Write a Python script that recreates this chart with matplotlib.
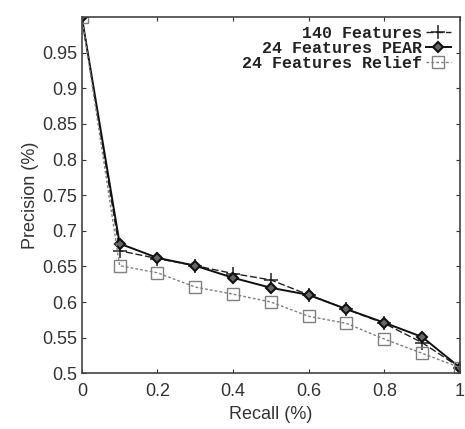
import matplotlib
matplotlib.use('Agg')
import matplotlib.pyplot as plt
import matplotlib as mpl

recall = [0.0, 0.1, 0.2, 0.3, 0.4, 0.5, 0.6, 0.7, 0.8, 0.9, 1.0]
prec_140 = [1.0, 0.672, 0.661, 0.651, 0.640, 0.631, 0.610, 0.590, 0.570, 0.543, 0.508]
prec_pear = [1.0, 0.682, 0.662, 0.651, 0.634, 0.620, 0.610, 0.590, 0.571, 0.551, 0.508]
prec_relief = [1.0, 0.651, 0.641, 0.621, 0.611, 0.600, 0.580, 0.570, 0.548, 0.528, 0.508]

labels = ['140 Features', '24 Features PEAR', '24 Features Relief']

styles = {
    '140 Features': {'color': '#222222', 'linestyle': '--', 'dashes': (5, 2),
                     'marker': '+', 'markersize': 10, 'markeredgewidth': 1.1,
                     'linewidth': 1.0},
    '24 Features PEAR': {'color': '#111111', 'linestyle': '-', 'marker': 'D',
                         'markersize': 5, 'markerfacecolor': '#666666',
                         'markeredgewidth': 1.5, 'linewidth': 1.4},
    '24 Features Relief': {'color': '#808080', 'linestyle': '--', 'dashes': (2, 1.5),
                           'marker': 's', 'markersize': 8.5, 'markerfacecolor': 'none',
                           'markeredgewidth': 1.0, 'linewidth': 1.0},
}

mpl.rc('font', family='Liberation Sans', size=13)
mpl.rc('xtick', direction='in', top=True)
mpl.rc('ytick', direction='in', right=True)

fig = plt.figure(figsize=(4.65, 4.29), dpi=100)
ax = fig.add_axes([0.176, 0.13, 0.813, 0.83])

for lab, y in zip(labels, [prec_140, prec_pear, prec_relief]):
    ax.plot(recall, y, label=lab, **styles[lab])

ax.set_xlim(0, 1)
ax.set_ylim(0.5, 1.0)
ax.set_xticks([0, 0.2, 0.4, 0.6, 0.8, 1])
ax.set_xticklabels(['0', '0.2', '0.4', '0.6', '0.8', '1'])
ax.set_yticks([0.5, 0.55, 0.6, 0.65, 0.7, 0.75, 0.8, 0.85, 0.9, 0.95])
ax.set_yticklabels(['0.5', '0.55', '0.6', '0.65', '0.7', '0.75', '0.8', '0.85', '0.9', '0.95'])
ax.tick_params(length=3, width=0.8, colors='#333333', labelcolor='#333333')
ax.tick_params(axis='x', pad=7)
for sp in ax.spines.values():
    sp.set_linewidth(1.2)
    sp.set_color('#444444')
ax.set_xlabel('Recall (%)', color='#333333', fontsize=13)
ax.set_ylabel('Precision (%)', color='#333333', fontsize=13, labelpad=2)

leg = ax.legend(loc='upper right', frameon=False, markerfirst=False,
                prop={'family': 'Liberation Mono', 'weight': 'bold', 'size': 12},
                handlelength=1.5, handletextpad=0.2, labelspacing=0.0,
                borderaxespad=0.15)
for t in leg.get_texts():
    t.set_ha('right')
    t.set_color('#222222')

plt.savefig('out.png', dpi=100)
